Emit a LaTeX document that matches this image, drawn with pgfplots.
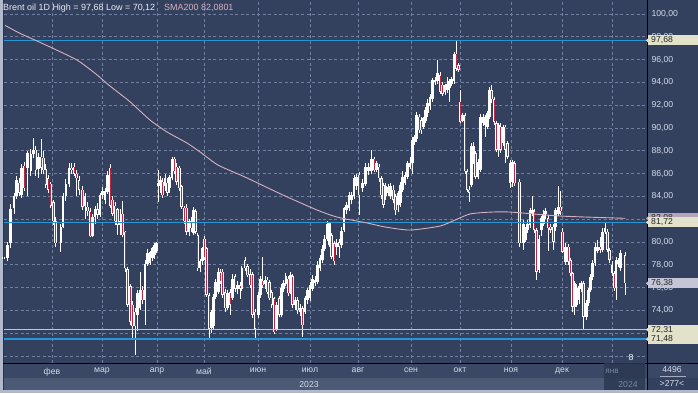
\documentclass[border=0pt]{standalone}
\usepackage{pgfplots}
\usepackage{pgfplotstable}
\pgfplotsset{compat=1.18}
\usepackage{fontspec}
\setmainfont{Liberation Sans}
\definecolor{plotbg}{RGB}{52,65,94}
\definecolor{bandA}{RGB}{58,72,102}
\definecolor{bandB}{RGB}{76,90,118}
\definecolor{framec}{RGB}{176,186,204}
\definecolor{gridc}{RGB}{112,128,160}
\definecolor{labc}{RGB}{210,218,232}
\definecolor{hblue}{RGB}{38,150,214}
\definecolor{hgray}{RGB}{196,198,206}
\definecolor{smac}{RGB}{214,176,192}
\definecolor{cred}{RGB}{186,40,66}
\definecolor{boxbeige}{RGB}{226,226,202}
\definecolor{boxlav}{RGB}{196,198,216}
\definecolor{boxsma}{RGB}{180,166,186}
\definecolor{dimc}{RGB}{120,134,158}
\definecolor{overlayc}{RGB}{44,56,82}

\pgfplotstableread{
x o h l c
3.5 78.5 78.8 78.4 78.7
7.3 78.6 80.0 78.3 79.7
10.7 79.9 83.3 79.5 82.9
14.0 83.0 84.3 82.5 84.0
16.7 84.0 85.8 83.8 85.4
19.0 85.2 85.6 84.0 84.3
21.7 84.1 86.8 83.9 86.5
24.0 86.7 87.0 84.5 84.7
27.5 86.5 88.0 84.0 87.8
30.8 86.2 88.2 85.8 87.7
33.5 87.7 89.1 87.4 88.1
35.8 88.1 88.4 85.8 86.3
38.5 86.4 87.8 85.6 87.5
41.0 87.5 89.0 86.0 86.5
43.5 87.4 88.0 86.0 86.3
45.8 86.4 86.8 84.7 85.0
48.0 85.6 85.9 84.3 84.6
50.8 85.1 85.3 83.0 83.2
53.3 83.5 83.7 81.5 81.8
55.5 81.8 82.2 79.6 79.9
60.8 79.9 81.6 79.15 81.3
63.2 81.3 84.3 81.2 84.0
65.8 84.0 85.5 83.6 85.1
69.2 85.1 86.9 84.8 86.5
71.5 86.5 86.9 86.0 86.3
74.0 86.6 86.9 85.8 86.0
76.7 86.0 86.3 84.0 85.6
79.0 85.4 85.8 84.1 84.6
82.5 84.6 84.9 82.8 83.1
85.0 83.2 84.3 82.0 84.0
87.5 83.1 83.5 82.3 82.7
90.0 82.7 83.0 80.4 80.5
92.5 80.5 82.5 80.4 82.2
95.0 82.2 83.2 81.6 82.9
97.5 82.9 83.4 82.0 82.4
100.0 82.4 84.3 82.2 84.1
102.5 84.1 84.8 83.8 84.5
105.0 83.7 84.7 83.3 84.5
107.5 84.4 86.2 84.2 85.9
110.0 86.5 86.8 83.0 83.2
112.5 83.7 84.0 82.3 82.5
115.0 83.2 83.5 81.5 81.8
117.5 82.9 83.0 80.6 81.5
120.0 81.5 82.9 80.6 81.8
122.5 82.5 83.6 80.4 80.6
125.0 80.9 81.0 77.4 77.7
127.7 77.6 77.8 74.3 74.5
130.3 76.1 76.3 72.7 73.0
132.5 74.5 74.8 71.5 72.6
135.0 73.9 74.2 70.12 72.6
137.3 73.6 75.8 72.2 75.5
140.0 74.2 77.4 74.0 75.8
142.3 75.8 76.1 74.6 74.9
145.0 74.9 78.4 72.7 78.1
147.3 78.1 79.4 77.9 79.0
150.0 78.2 79.2 78.0 79.1
152.3 78.6 79.6 78.3 79.45
154.5 78.9 79.9 78.5 79.7
156.5 79.2 80.0 79.0 79.9
158.5 84.9 86.3 83.5 85.2
160.5 84.9 85.8 84.3 85.4
162.5 85.3 85.6 83.9 84.1
165.0 84.9 86.0 84.5 85.6
167.3 85.2 85.6 84.0 84.3
169.5 84.7 85.9 84.3 85.7
172.0 85.6 87.5 85.4 87.3
174.3 87.3 87.5 86.0 86.2
176.7 86.6 86.9 85.0 85.3
179.3 86.5 86.7 84.5 84.7
181.7 84.9 85.0 82.9 83.1
184.3 83.0 83.2 81.6 81.8
186.7 83.0 83.3 80.6 80.9
189.0 80.9 82.0 80.5 81.8
191.5 81.8 82.2 80.9 81.2
193.5 80.8 83.1 80.6 82.8
195.7 82.7 82.9 80.7 80.9
197.8 80.6 80.8 77.5 77.7
200.0 77.7 78.5 77.4 78.3
202.3 78.3 79.6 78.0 79.45
204.5 80.3 80.5 78.4 78.6
206.7 79.45 79.6 75.2 75.35
209.0 75.35 75.5 71.4 72.4
211.7 72.5 74.0 72.0 73.9
213.5 72.6 75.4 72.3 75.2
215.7 75.2 76.8 75.0 76.5
218.3 75.6 77.7 75.4 77.4
220.3 77.3 77.6 76.3 76.5
222.5 77.4 77.6 75.1 75.35
225.0 75.6 75.9 73.9 74.2
227.3 74.2 75.8 74.0 75.5
230.0 75.6 75.9 73.6 74.5
232.3 75.06 77.2 74.9 76.8
235.0 77.0 77.2 75.6 75.9
237.3 75.9 76.6 75.4 76.2
240.0 76.2 76.5 75.0 75.9
241.8 75.9 77.9 75.7 77.7
245.0 78.4 78.7 77.5 77.7
247.3 77.9 78.1 76.9 77.1
250.0 77.2 77.6 76.0 76.2
252.3 77.2 77.4 73.3 73.6
255.0 73.9 74.1 71.4 72.4
258.3 73.6 75.6 73.3 75.35
260.5 75.35 77.0 75.1 76.8
262.5 76.6 78.7 76.0 76.2
265.0 76.3 77.0 75.9 76.7
267.0 76.7 76.9 75.4 75.6
269.3 76.5 76.7 74.9 75.06
271.8 75.6 75.8 74.2 74.5
274.0 75.06 75.2 71.9 72.1
276.7 72.4 74.7 72.2 74.5
279.0 75.06 75.3 73.4 73.6
281.7 73.6 76.3 73.4 76.0
283.5 75.9 76.7 75.6 76.4
285.8 76.3 77.3 76.1 77.0
288.3 76.8 77.0 75.3 75.5
290.5 75.6 77.4 75.4 77.1
292.7 77.0 77.2 74.2 74.5
295.0 74.5 75.2 74.0 74.9
297.5 74.9 75.2 73.7 74.0
300.0 73.9 74.6 73.5 74.2
302.5 74.2 74.4 71.7 72.7
305.0 73.9 75.3 73.7 75.06
307.5 74.9 76.0 74.6 75.8
310.0 75.06 76.5 74.8 76.2
312.5 75.9 77.1 75.7 76.8
315.0 76.4 77.0 76.1 76.7
317.5 76.5 78.3 76.3 78.0
320.0 77.7 78.9 77.5 78.6
322.3 78.4 79.7 78.2 79.4
324.7 79.4 80.6 79.2 80.3
327.0 80.3 81.8 80.1 81.6
329.3 79.74 81.7 79.6 81.64
331.7 80.6 80.8 78.5 78.7
334.0 79.9 80.1 78.0 78.3
336.7 79.6 80.3 78.9 79.9
339.0 80.0 80.3 78.6 79.6
341.7 79.7 81.3 79.5 81.0
344.0 81.05 83.1 80.9 82.95
346.7 82.8 83.5 82.5 83.25
349.0 82.95 84.4 82.7 84.1
351.7 83.7 84.4 83.3 84.1
354.0 84.0 85.9 83.8 85.6
356.7 84.9 86.0 84.6 85.7
359.0 85.9 86.1 82.4 84.1
362.3 84.7 85.5 84.4 85.2
365.7 85.1 86.9 84.9 86.6
368.3 86.2 86.9 85.9 86.6
371.7 86.2 88.1 86.0 87.3
374.0 87.3 87.5 86.1 86.3
376.7 86.3 87.1 86.1 86.9
379.0 86.6 86.8 85.3 85.6
381.7 85.6 85.8 83.8 84.1
383.3 85.0 85.2 83.0 83.25
385.7 84.0 85.2 83.7 84.9
388.3 84.3 85.1 84.0 84.8
390.7 84.0 85.2 83.8 84.9
393.3 84.6 85.0 83.4 83.7
395.7 84.0 84.2 82.4 82.8
398.3 83.25 84.5 82.6 84.3
400.7 83.4 85.3 83.1 85.0
402.7 84.6 86.2 84.4 85.7
405.0 85.2 86.1 85.0 85.9
407.3 85.7 87.1 85.5 86.9
410.0 86.6 87.5 86.4 86.9
412.3 86.9 89.2 86.0 88.95
414.3 88.8 89.4 88.5 89.2
416.7 89.0 91.4 88.8 91.1
419.0 91.0 91.2 89.6 89.8
421.0 90.7 91.0 89.5 89.8
423.3 90.1 91.0 89.9 90.85
425.7 90.6 91.8 90.4 91.6
427.3 91.3 92.5 91.0 92.2
430.0 91.9 93.0 91.6 92.75
432.3 92.5 94.4 92.3 94.2
435.0 94.0 94.5 93.8 94.2
437.3 94.1 96.0 93.9 94.8
440.0 94.65 94.9 93.0 93.2
442.3 93.8 94.0 92.8 93.0
445.0 93.2 93.9 92.9 93.8
447.3 93.3 94.5 93.1 93.9
449.3 93.5 94.3 92.3 94.1
451.7 93.9 94.5 93.7 94.3
454.0 94.1 96.7 93.9 96.5
456.0 96.5 97.68 95.0 95.2
458.3 95.5 95.7 94.9 95.1
460.0 92.3 93.3 90.4 90.56
462.7 90.6 91.3 90.5 91.1
465.0 91.1 91.3 86.0 86.2
467.0 86.2 86.4 84.4 84.6
469.0 84.6 84.9 83.5 84.3
471.7 85.0 88.7 84.8 88.4
473.7 87.0 88.8 86.8 88.4
475.7 87.8 88.0 85.5 85.7
478.0 85.7 87.3 85.5 87.0
480.7 86.3 91.2 86.1 91.0
483.3 90.4 91.2 90.2 91.0
485.0 90.3 91.1 89.24 90.9
487.3 90.1 91.5 89.9 91.3
489.3 91.0 93.6 90.8 93.3
491.7 93.3 93.8 92.2 92.5
494.0 92.5 92.7 90.3 90.56
496.3 90.4 90.6 87.9 88.1
498.5 88.4 90.4 87.5 90.3
500.7 90.1 90.4 87.8 88.1
503.0 88.7 90.3 88.4 90.1
505.0 90.1 90.3 86.9 88.1
507.3 88.66 88.9 87.3 87.5
510.0 85.2 87.2 84.7 86.9
512.3 85.3 87.2 84.8 87.0
514.7 86.9 87.1 84.9 85.15
519.5 85.3 85.5 79.6 79.9
523.3 79.9 81.9 79.3 81.6
525.7 80.2 81.3 80.0 81.05
527.5 81.05 81.9 80.8 81.6
530.0 81.5 83.0 81.2 82.8
532.3 82.5 84.0 82.3 82.8
534.0 82.7 82.9 80.8 81.05
536.7 81.05 81.2 76.7 77.4
539.0 77.55 80.6 77.3 80.3
541.3 81.05 82.3 80.5 82.1
543.3 81.6 82.8 81.4 82.5
545.7 82.5 83.0 82.0 82.7
548.0 82.1 82.4 79.2 81.2
550.7 81.35 81.6 80.8 81.05
553.3 81.35 81.6 79.3 80.0
555.7 81.35 83.0 81.0 82.8
558.3 82.5 84.9 82.3 83.1
560.3 83.1 84.5 82.4 82.7
562.5 80.9 81.2 79.0 79.15
565.7 78.28 79.9 78.0 79.59
568.3 79.59 79.8 78.0 78.28
570.7 78.42 78.6 77.0 77.25
572.5 77.25 77.4 73.9 74.33
574.7 74.33 76.6 73.6 76.38
576.7 74.5 76.3 74.3 76.0
579.0 74.9 76.4 74.6 76.1
581.5 75.9 76.6 75.6 76.4
583.3 76.38 76.6 72.31 73.45
586.5 73.45 74.9 73.2 74.62
588.7 74.62 76.0 74.4 75.79
590.7 75.79 77.2 75.6 76.96
592.7 76.96 78.4 76.7 78.13
595.0 78.13 79.9 77.9 79.59
597.3 79.2 80.2 79.0 79.6
600.0 79.6 80.4 79.0 79.3
602.3 79.3 81.2 79.1 80.9
605.0 80.9 81.64 80.7 81.2
607.3 80.9 81.1 79.1 79.3
609.7 79.3 79.5 78.2 78.42
612.0 77.25 78.3 77.0 77.98
614.0 77.25 77.5 75.7 75.94
616.0 75.94 78.7 74.9 78.42
618.3 78.1 78.6 77.8 78.4
620.3 77.69 79.3 77.5 79.0
625.0 78.86 79.1 75.35 76.38
}\candles

\pgfplotstableread{
x v
5 99.0
20 98.3
37 97.63
55 96.9
77 95.96
95 94.8
110 93.68
130 92.3
150 90.70
167 89.65
187 88.68
200 87.9
218 86.75
245 85.70
283 84.12
317 82.81
337 82.19
367 81.67
385 81.32
410 81.05
440 81.40
455 81.93
470 82.46
490 82.62
510 82.63
560 82.28
625 82.08
}\sma

\begin{document}
\begin{tikzpicture}[x=1bp,y=1bp]
\useasboundingbox (0,0) rectangle (698,393);
\fill[framec] (0,0) rectangle (698,393);
\fill[plotbg] (3,3) rectangle (698,393);
\fill[bandA] (3,15) rectangle (698,30);
\fill[bandB] (3,3) rectangle (647,15);
\begin{axis}[
  at={(4bp,30bp)}, anchor=south west,
  scale only axis, width=643bp, height=361bp,
  xmin=4, xmax=647, ymin=69.39, ymax=101.05,
  axis line style={draw=none},
  tick style={draw=none},
  clip=false,
  xtick={52,102,157,204,258,310,358,411,460,511,562,612},
  xticklabels={фев,мар,апр,май,июн,июл,авг,сен,окт,ноя,дек,},
  ytick={70,72,...,100},
  yticklabels={,{72,00},{74,00},{76,00},{78,00},{80,00},{82,00},{84,00},{86,00},{88,00},{90,00},{92,00},{94,00},{96,00},{98,00},{100,00}},
  yticklabel pos=right,
  grid=major,
  grid style={gridc, line width=0.7bp, dash pattern=on 3bp off 2.5bp},
  ticklabel style={font=\fontsize{8.7}{10}\selectfont, text=labc},
  xticklabel style={yshift=-1.5bp},
  yticklabel style={xshift=1bp},
]
% wicks
\addplot[white, line width=1bp, quiver={u=0, v=\thisrow{h}-\thisrow{l}}]
  table[x=x, y=l] {\candles};
% bodies
\addplot[white, line width=2.5bp, quiver={u=0, v={max(abs(\thisrow{o}-\thisrow{c}),0.09)}}]
  table[x=x, y expr={min(\thisrow{o},\thisrow{c})}] {\candles};
% bearish fill
\addplot[cred, line width=1bp, quiver={u=0, v=\thisrow{o}-\thisrow{c}-0.1},
  restrict expr to domain={\thisrow{o}-\thisrow{c}}{0.15:100}]
  table[x=x, y expr={\thisrow{c}+0.05}] {\candles};
% level lines
\addplot[hblue, line width=1.4bp] coordinates {(4,97.68) (647,97.68)};
\addplot[hblue, line width=1.4bp] coordinates {(4,81.72) (647,81.72)};
\addplot[hblue, line width=1.4bp] coordinates {(4,71.48) (647,71.48)};
\addplot[hgray, line width=1.2bp] coordinates {(4,72.31) (647,72.31)};
% SMA200
\addplot[smac, line width=0.9bp, smooth, tension=0.4] table[x=x, y=v] {\sma};
\coordinate (b1) at (axis cs:647,97.68);
\coordinate (b2) at (axis cs:647,82.08);
\coordinate (b3) at (axis cs:647,81.72);
\coordinate (b4) at (axis cs:647,76.38);
\coordinate (b5) at (axis cs:647,72.31);
\coordinate (b6) at (axis cs:647,71.48);
\end{axis}
% frame lines
\draw[black!80, line width=1bp] (3.5,3) -- (3.5,393);
\draw[black, line width=1bp] (647,3) -- (647,393);
\draw[black, line width=1bp] (3,30) -- (698,30);
% price boxes
\tikzset{pbox/.style={anchor=west, inner xsep=3bp, inner ysep=0pt, minimum height=10bp, text width=44bp, align=left, text=black!85, font=\fontsize{8.7}{10}\selectfont}}
\foreach \c/\t/\col in {b2/82{,}08/boxsma, b1/97{,}68/boxbeige, b3/81{,}72/boxbeige, b4/76{,}38/boxlav, b5/72{,}31/boxbeige, b6/71{,}48/boxbeige}{
  \node[pbox, fill=\col] at ([xshift=1bp]\c) {\t};
  \fill[\col] (\c) ++(-1,0) -- ++(5,5) -- ++(0,-10) -- cycle;
}
% titles
\node[anchor=west, inner sep=0, text={rgb,255:red,232;green,236;blue,244}, font=\fontsize{9}{10}\selectfont] at (3,385) {Brent oil 1D High = 97,68 Low = 70,12};
\node[anchor=west, inner sep=0, text=smac, font=\fontsize{9}{10}\selectfont] at (164,385) {SMA200 82,0801};
% bottom texts
\node[text=labc, font=\fontsize{8.7}{10}\selectfont] at (309,8.5) {2023};
\fill[overlayc, opacity=0.85] (604,3) rectangle (645,30);
\node[text=dimc, font=\fontsize{8.2}{10}\selectfont] at (612,21.5) {янв};
\node[text=dimc, font=\fontsize{8.7}{10}\selectfont] at (628,8.5) {2024};
\node[text=white, font=\fontsize{8.7}{10}\selectfont] at (631,35) {8};
\node[text=labc, font=\fontsize{8.7}{10}\selectfont] at (672,23) {4496};
\draw[labc!70!plotbg, line width=0.5bp] (660,16.5) -- (686,16.5);
\node[text=labc, font=\fontsize{8.7}{10}\selectfont] at (672,9.5) {>277<};
\end{tikzpicture}
\end{document}
